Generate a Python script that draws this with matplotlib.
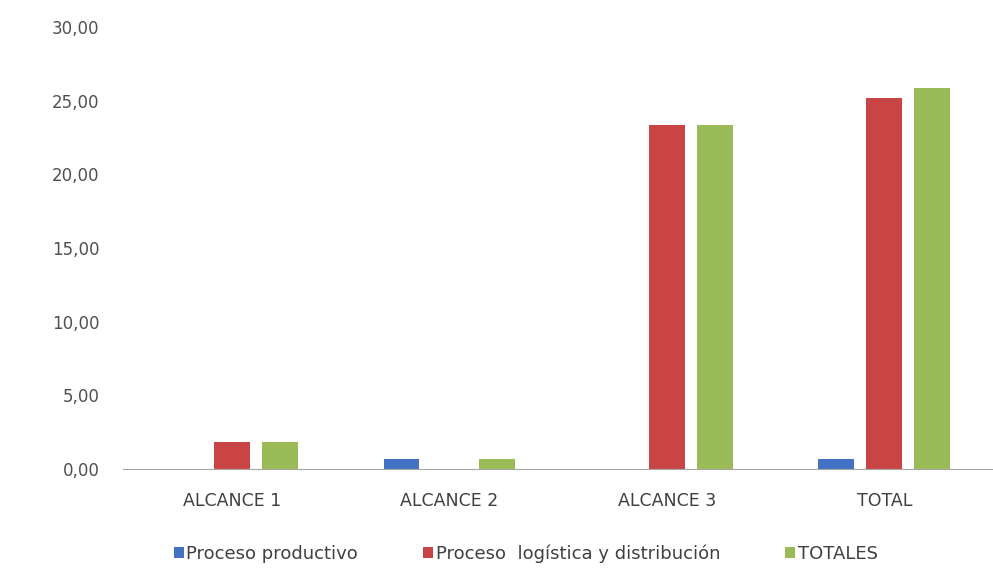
import matplotlib
matplotlib.use("Agg")
import matplotlib.pyplot as plt
import numpy as np

categories = ["ALCANCE 1", "ALCANCE 2", "ALCANCE 3", "TOTAL"]
series_names = ["Proceso productivo", "Proceso  logística y distribución", "TOTALES"]
proceso_productivo = [0.0, 0.68, 0.0, 0.68]
proceso_logistica = [1.83, 0.0, 23.35, 25.18]
totales = [1.85, 0.68, 23.35, 25.88]
yticks = [0, 5, 10, 15, 20, 25, 30]
ytick_labels = ["0,00", "5,00", "10,00", "15,00", "20,00", "25,00", "30,00"]

colors = ["#4472C4", "#C94545", "#9BBB59"]

fig = plt.figure(figsize=(9.93, 5.76), dpi=100)
ax = fig.add_axes([0.124, 0.186, 0.876, 0.767])

x = np.arange(len(categories))
offset = 0.22
width = 0.165
for i, (vals, name) in enumerate(zip([proceso_productivo, proceso_logistica, totales], series_names)):
    ax.bar(x + (i - 1) * offset, vals, width, color=colors[i], label=name)

ax.set_xlim(-0.5, 3.5)
ax.set_ylim(0, 30)
ax.set_yticks(yticks)
ax.set_yticklabels(ytick_labels)
ax.set_xticks(x)
ax.set_xticklabels(categories)
for s in ["top", "right", "left"]:
    ax.spines[s].set_visible(False)
ax.spines["bottom"].set_color("#A6A6A6")
ax.tick_params(axis="y", length=0, pad=17, labelsize=12, labelcolor="#505050")
ax.tick_params(axis="x", length=0, pad=17, labelsize=12.5, labelcolor="#404040")

leg = ax.legend(loc="center", bbox_to_anchor=(0.463, -0.192), ncol=3, frameon=False,
                fontsize=13, handlelength=0.55, handleheight=0.55, handletextpad=0.15,
                columnspacing=3.6, borderaxespad=0)
for t in leg.get_texts():
    t.set_color("#404040")

fig.savefig("out.png", dpi=100)
